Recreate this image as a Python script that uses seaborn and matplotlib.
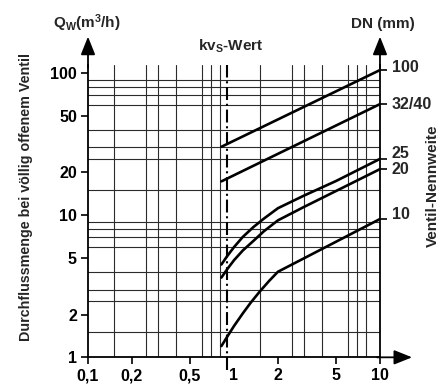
import matplotlib
matplotlib.use('Agg')
import matplotlib.pyplot as plt
from matplotlib.ticker import NullFormatter, NullLocator
import seaborn as sns
import numpy as np
import pandas as pd

# kv-Werte (m3/h) und Durchfluss (m3/h) je Nennweite
kv_100 = [0.82, 10.0]
q_100 = [30.3, 105.0]

kv_3240 = [0.82, 10.0]
q_3240 = [17.3, 60.5]

kv_25 = [0.82, 0.9, 1.0, 1.15, 1.36, 1.6, 2.0, 3.0, 5.0, 10.0]
q_25 = [4.5, 5.17, 5.96, 7.04, 8.26, 9.45, 11.2, 13.7, 17.4, 24.9]

kv_20 = [0.82, 0.9, 1.0, 1.15, 1.36, 1.6, 2.0, 3.0, 5.0, 10.0]
q_20 = [3.64, 4.18, 4.82, 5.65, 6.6, 7.7, 9.2, 11.4, 14.8, 21.1]

kv_10 = [0.82, 0.9, 1.0, 1.15, 1.3, 1.5, 1.75, 2.0, 10.0]
q_10 = [1.2, 1.4, 1.66, 2.04, 2.42, 2.9, 3.47, 4.0, 9.4]

dn_labels = ['100', '32/40', '25', '20', '10']
dn_label_dy = [1.5, 0, 4, 0, 3]   # Punkte nach oben

x_ticks = [0.1, 0.2, 0.5, 1, 2, 5, 10]
x_ticklabels = ['0,1', '0,2', '0,5', '1', '2', '5', '10']
y_ticks = [1, 2, 5, 10, 20, 50, 100]
y_ticklabels = ['1', '2', '5', '10', '20', '50', '100']

x_grid = [0.15, 0.2, 0.25, 0.3, 0.4, 0.5, 0.6, 0.7, 0.8, 1.5, 2, 2.5, 3, 4, 5, 6, 7, 8]
y_grid = [1.5, 2, 2.5, 3, 4, 5, 6, 7, 8, 9, 10, 15, 20, 25, 30, 40, 50, 60, 70, 80, 90, 100]
kvs_wert = 0.9

#%%
sns.set_style('white')
plt.rcParams['font.family'] = ['Liberation Sans', 'DejaVu Sans']
plt.rcParams['font.weight'] = 'bold'
plt.rcParams['mathtext.fontset'] = 'custom'
plt.rcParams['mathtext.rm'] = 'Liberation Sans:bold'
plt.rcParams['mathtext.it'] = 'Liberation Sans:bold'
plt.rcParams['mathtext.bf'] = 'Liberation Sans:bold'

fig, ax = plt.subplots(figsize=(4.4, 3.85), dpi=100)
fig.subplots_adjust(left=0.2, right=0.8636, bottom=0.0719, top=0.8312)

kurven = [(kv_100, q_100), (kv_3240, q_3240), (kv_25, q_25), (kv_20, q_20), (kv_10, q_10)]
for kv, q in kurven:
    df = pd.DataFrame({'kv': kv, 'Q': q})
    sns.lineplot(data=df, x='kv', y='Q', color='k', lw=1.9, sort=False, estimator=None, ax=ax, zorder=5)

ax.set_xscale('log')
ax.set_yscale('log')
ax.set_xlim(0.1, 10)
ax.set_ylim(1, 114)

ax.set_xticks(x_ticks)
ax.set_xticklabels(x_ticklabels)
ax.set_yticks(y_ticks)
ax.set_yticklabels(y_ticklabels)
ax.set_xticks(x_grid, minor=True)
ax.set_yticks(y_grid, minor=True)
ax.xaxis.set_minor_formatter(NullFormatter())
ax.yaxis.set_minor_formatter(NullFormatter())
ax.tick_params(which='major', bottom=True, left=True, direction='out', length=5, width=1.2,
               labelsize=11.5, pad=3, color='k', labelcolor='k')
ax.tick_params(which='minor', length=0)
ax.xaxis.get_major_ticks()[3].tick1line.set_visible(False)
ax.grid(which='minor', color='#2b2b2b', lw=0.8)
ax.grid(which='major', visible=False)
ax.set_xlabel('')
ax.set_ylabel('Durchflussmenge bei völlig offenem Ventil', fontsize=10.3, fontweight='bold')
ax.yaxis.set_label_coords(-0.19, 0.548)

for s in ['left', 'right', 'bottom']:
    ax.spines[s].set_color('k')
    ax.spines[s].set_linewidth(1.3)
ax.spines['top'].set_visible(False)

# kvs-Wert Strichpunktlinie
ax.plot([kvs_wert, kvs_wert], [0.81, 114], color='k', lw=1.5,
        linestyle=(0, (6.2, 1.8, 1, 1.8)), clip_on=False, zorder=6)

# Pfeile an den Achsen
pfeil = dict(arrowstyle='-|>,head_length=0.55,head_width=0.22', color='k', lw=1.3,
             shrinkA=0, shrinkB=0, mutation_scale=20)
ax.annotate('', xy=(0, 1.097), xytext=(0, 0.99), xycoords='axes fraction', arrowprops=pfeil)
ax.annotate('', xy=(1, 1.097), xytext=(1, 0.99), xycoords='axes fraction', arrowprops=pfeil)
ax.annotate('', xy=(1.11, 0), xytext=(0.99, 0), xycoords='axes fraction', arrowprops=pfeil)

# rechte Achse: Nennweiten
ax2 = ax.twinx()
ax2.set_yscale('log')
ax2.set_ylim(ax.get_ylim())
dn_end = [q_100[-1], q_3240[-1], q_25[-1], q_20[-1], q_10[-1]]
ax2.set_yticks(dn_end)
ax2.set_yticklabels([])
ax2.yaxis.set_minor_locator(NullLocator())
ax2.tick_params(right=True, direction='out', length=5, width=1.2, color='k')
for s in ax2.spines.values():
    s.set_visible(False)
for lbl, q, dy in zip(dn_labels, dn_end, dn_label_dy):
    ax.annotate(lbl, xy=(1, q), xycoords=ax.get_yaxis_transform(), xytext=(8.5, dy),
                textcoords='offset points', ha='left', va='center', fontsize=11.5,
                fontweight='bold', annotation_clip=False)

ax.text(-0.005, 1.125, r'Q$_\mathrm{W}$(m$^3$/h)', transform=ax.transAxes, ha='center',
        va='baseline', fontsize=11, fontweight='bold')
ax.text(1.01, 1.125, 'DN (mm)', transform=ax.transAxes, ha='center', va='baseline',
        fontsize=11, fontweight='bold')
ax.text(0.49, 1.048, r'kv$_\mathrm{S}$-Wert', transform=ax.transAxes, ha='center',
        va='baseline', fontsize=11, fontweight='bold')
ax.text(1.18, 0.586, 'Ventil-Nennweite', transform=ax.transAxes, ha='center', va='center',
        rotation=90, fontsize=11, fontweight='bold')

plt.savefig('out.png', dpi=100)
